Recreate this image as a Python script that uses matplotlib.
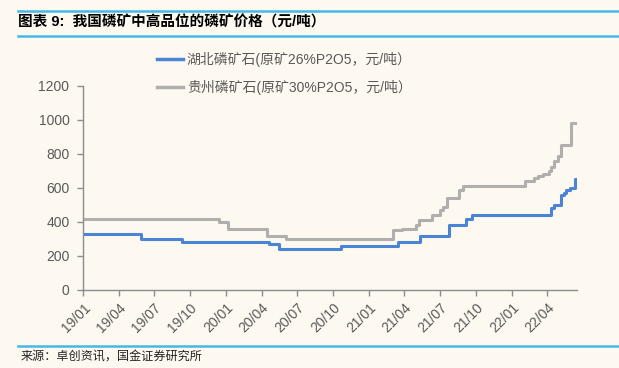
import pandas as pd
import matplotlib
matplotlib.use("Agg")
import matplotlib.pyplot as plt
import matplotlib.dates as mdates
from matplotlib.lines import Line2D

plt.rcParams['font.family'] = ['Liberation Sans', 'Noto Sans CJK SC', 'DejaVu Sans']

TITLE = "图表 9:  我国磷矿中高品位的磷矿价格（元/吨）"
SOURCE = "来源：卓创资讯，国金证券研究所"
LABEL_HB = "湖北磷矿石(原矿26%P2O5，元/吨）"
LABEL_GZ = "贵州磷矿石(原矿30%P2O5，元/吨）"

# step change points (date, price); last entry repeats the final value
hb_dates = ["2019-01-01", "2019-05-29", "2019-09-10", "2020-04-20", "2020-05-15",
            "2020-10-22", "2021-03-15", "2021-05-10", "2021-07-25", "2021-09-05",
            "2021-09-20", "2022-04-12", "2022-04-20", "2022-05-08", "2022-05-14",
            "2022-05-20", "2022-05-29", "2022-06-12", "2022-06-16"]
hb_price = [330, 300, 280, 270, 240,
            260, 280, 320, 380, 420,
            440, 480, 500, 560, 570,
            590, 600, 650, 650]

gz_dates = ["2019-01-01", "2019-12-14", "2020-01-05", "2020-04-15", "2020-06-03",
            "2021-03-04", "2021-03-27", "2021-05-01", "2021-05-08", "2021-06-10",
            "2021-07-01", "2021-07-08", "2021-07-18", "2021-08-20", "2021-08-28",
            "2022-02-03", "2022-02-28", "2022-03-10", "2022-03-22", "2022-04-05",
            "2022-04-12", "2022-04-20", "2022-04-28", "2022-05-08", "2022-06-01",
            "2022-06-16"]
gz_price = [420, 400, 360, 320, 300,
            350, 360, 380, 410, 440,
            470, 490, 540, 590, 610,
            640, 660, 670, 680, 700,
            720, 760, 790, 850, 980,
            980]

BG = "#FDF9F0"
BLUE = "#4A84D4"
GRAY = "#B0AFAD"
TXT = "#595959"
AXC = "#8C8C8C"
BAR = "#45B8E8"

hb_x = pd.to_datetime(hb_dates)
gz_x = pd.to_datetime(gz_dates)

fig = plt.figure(figsize=(6.19, 3.68), dpi=100, facecolor=BG)
ax = fig.add_axes([0.1346, 0.212, 0.7971, 0.555], facecolor=BG)

ax.plot(hb_x, hb_price, drawstyle="steps-post", color=BLUE, lw=2.2)
ax.plot(gz_x, gz_price, drawstyle="steps-post", color=GRAY, lw=2.2)

ax.set_ylim(0, 1200)
ax.set_yticks(range(0, 1201, 200))
ax.set_xlim(pd.Timestamp("2019-01-01"), pd.Timestamp("2022-06-16"))
ticks = pd.date_range("2019-01-01", "2022-04-01", freq="QS")
ax.set_xticks(ticks)
ax.xaxis.set_major_formatter(mdates.DateFormatter("%y/%m"))

for s in ["top", "right"]:
    ax.spines[s].set_visible(False)
for s in ["left", "bottom"]:
    ax.spines[s].set_color(AXC)
    ax.spines[s].set_linewidth(1.0)
ax.tick_params(axis="both", colors=AXC, labelcolor=TXT, labelsize=10,
               length=4, width=1.0, direction="out")
ax.tick_params(axis="y", pad=6)
plt.setp(ax.get_xticklabels(), rotation=45, ha="right", rotation_mode="anchor")

handles = [Line2D([], [], color=BLUE, lw=2.5), Line2D([], [], color=GRAY, lw=2.5)]
leg = fig.legend(handles, [LABEL_HB, LABEL_GZ], loc="upper left",
                 bbox_to_anchor=(0.2536, 0.858), frameon=False, fontsize=10,
                 handlelength=1.9, handletextpad=0.25, labelspacing=0.9,
                 labelcolor=TXT, borderaxespad=0, borderpad=0)

# title bars
fig.add_artist(Line2D([18 / 619, 1], [1 - 11 / 368] * 2, color=BAR, lw=1.8))
fig.add_artist(Line2D([18 / 619, 1], [1 - 35.7 / 368] * 2, color=BAR, lw=1.8))
fig.add_artist(Line2D([18 / 619, 1], [1 - 345.7 / 368] * 2, color=BAR, lw=1.8))
fig.text(18 / 619, 1 - 22 / 368, TITLE, fontsize=10.5, fontweight="bold",
         color="black", va="center", ha="left")
fig.text(21 / 619, 1 - 357 / 368, SOURCE, fontsize=8.7, color="#222222",
         va="center", ha="left")

fig.savefig("out.png", dpi=100, facecolor=BG)
